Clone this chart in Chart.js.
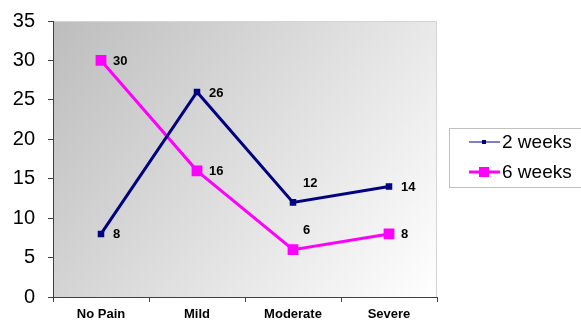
<!DOCTYPE html>
<html>
<head>
<meta charset="utf-8">
<script src="https://cdn.jsdelivr.net/npm/chart.js@4/dist/chart.umd.min.js"></script>
<style>
  html, body { margin: 0; padding: 0; background: #ffffff; }
  #wrap { width: 581px; height: 321px; position: relative; }
</style>
</head>
<body>
<div id="wrap"><canvas id="c" width="581" height="321"></canvas></div>
<script>
// Pain categories and counts at each follow-up
const categories = ['No Pain', 'Mild', 'Moderate', 'Severe'];
const weeks2 = [8, 26, 12, 14];
const weeks6 = [30, 16, 6, 8];
const seriesNames = ['2 weeks', '6 weeks'];
const yTicks = [0, 5, 10, 15, 20, 25, 30, 35];

const NAVY = '#000080';
const MAGENTA = '#ff00ff';
const FONT = '"Liberation Sans", Arial, sans-serif';

// Gradient fill and thin frame behind the plot area
const plotBackground = {
  id: 'plotBackground',
  beforeDraw(chart) {
    const { ctx, chartArea: a } = chart;
    ctx.save();
    const g = ctx.createLinearGradient(a.left, a.top, a.right, a.bottom);
    g.addColorStop(0, '#bdbdbd');
    g.addColorStop(1, '#ffffff');
    ctx.fillStyle = g;
    ctx.fillRect(a.left, a.top, a.right - a.left, a.bottom - a.top);
    ctx.strokeStyle = '#d4d4d4';
    ctx.lineWidth = 1;
    ctx.beginPath();
    ctx.moveTo(a.left, a.top + 0.5);
    ctx.lineTo(a.right - 0.5, a.top + 0.5);
    ctx.lineTo(a.right - 0.5, a.bottom);
    ctx.stroke();
    ctx.restore();
  }
};

// Value labels next to each point (above the point for the Moderate column)
const valueLabels = {
  id: 'valueLabels',
  afterDatasetsDraw(chart) {
    const { ctx } = chart;
    ctx.save();
    ctx.font = 'bold 13px ' + FONT;
    ctx.fillStyle = '#000000';
    ctx.textBaseline = 'middle';
    ctx.textAlign = 'left';
    chart.data.datasets.forEach((ds, di) => {
      const meta = chart.getDatasetMeta(di);
      meta.data.forEach((pt, i) => {
        const v = ds.data[i];
        if (i === 2) {
          ctx.fillText(String(v), pt.x + 10, pt.y - 19);
        } else {
          ctx.fillText(String(v), pt.x + 12, pt.y + 1);
        }
      });
    });
    ctx.restore();
  }
};

// Boxed legend to the right of the plot
const sideLegend = {
  id: 'sideLegend',
  afterDraw(chart) {
    const { ctx } = chart;
    const x0 = 449.5, y0 = 128.5, w = 140, h = 59;
    ctx.save();
    ctx.fillStyle = '#ffffff';
    ctx.fillRect(x0, y0, w, h);
    ctx.strokeStyle = '#c0c0c0';
    ctx.lineWidth = 1;
    ctx.strokeRect(x0, y0, w, h);
    const rows = [
      { y: 142, color: NAVY, lw: 1, sq: 4 },
      { y: 172, color: MAGENTA, lw: 3, sq: 10 }
    ];
    ctx.font = '19px ' + FONT;
    ctx.textBaseline = 'middle';
    ctx.textAlign = 'left';
    rows.forEach((r, i) => {
      ctx.strokeStyle = r.color;
      ctx.lineWidth = r.lw;
      ctx.beginPath();
      ctx.moveTo(469, r.y);
      ctx.lineTo(500, r.y);
      ctx.stroke();
      ctx.fillStyle = r.color;
      ctx.fillRect(484 - r.sq / 2, r.y - r.sq / 2, r.sq, r.sq);
      ctx.fillStyle = '#000000';
      ctx.fillText(seriesNames[i], 502, r.y + 1);
    });
    ctx.restore();
  }
};

new Chart(document.getElementById('c'), {
  type: 'line',
  data: {
    labels: categories,
    datasets: [
      {
        label: seriesNames[0],
        data: weeks2,
        borderColor: NAVY,
        backgroundColor: NAVY,
        borderWidth: 3,
        pointStyle: 'rect',
        pointRadius: 2.5,
        pointHoverRadius: 2.5,
        tension: 0
      },
      {
        label: seriesNames[1],
        data: weeks6,
        borderColor: MAGENTA,
        backgroundColor: MAGENTA,
        borderWidth: 3,
        pointStyle: 'rect',
        pointRadius: 5.5,
        pointHoverRadius: 5.5,
        tension: 0
      }
    ]
  },
  options: {
    responsive: false,
    animation: false,
    events: [],
    layout: { padding: { top: 21, right: 144, bottom: 0, left: 0 } },
    plugins: {
      legend: { display: false },
      tooltip: { enabled: false }
    },
    scales: {
      x: {
        offset: true,
        grid: { drawOnChartArea: false, drawTicks: true, tickLength: 5, color: '#404040', offset: true },
        border: { display: true, color: '#404040', width: 1 },
        ticks: { color: '#000000', font: { family: FONT, size: 13, weight: 'bold' }, padding: 5, maxRotation: 0 },
        afterFit(scale) {
          scale.height = 24;
          scale.paddingLeft = 0;
          scale.paddingRight = 0;
        }
      },
      y: {
        min: 0,
        max: 35,
        afterBuildTicks(scale) { scale.ticks = yTicks.map(v => ({ value: v })); },
        grid: { drawOnChartArea: false, drawTicks: true, tickLength: 5, color: '#404040' },
        border: { display: true, color: '#404040', width: 1 },
        ticks: { color: '#000000', font: { family: FONT, size: 20 }, padding: 13 },
        afterFit(scale) {
          scale.width = 53;
          scale.paddingTop = 0;
          scale.paddingBottom = 0;
        }
      }
    }
  },
  plugins: [plotBackground, valueLabels, sideLegend]
});
</script>
</body>
</html>
